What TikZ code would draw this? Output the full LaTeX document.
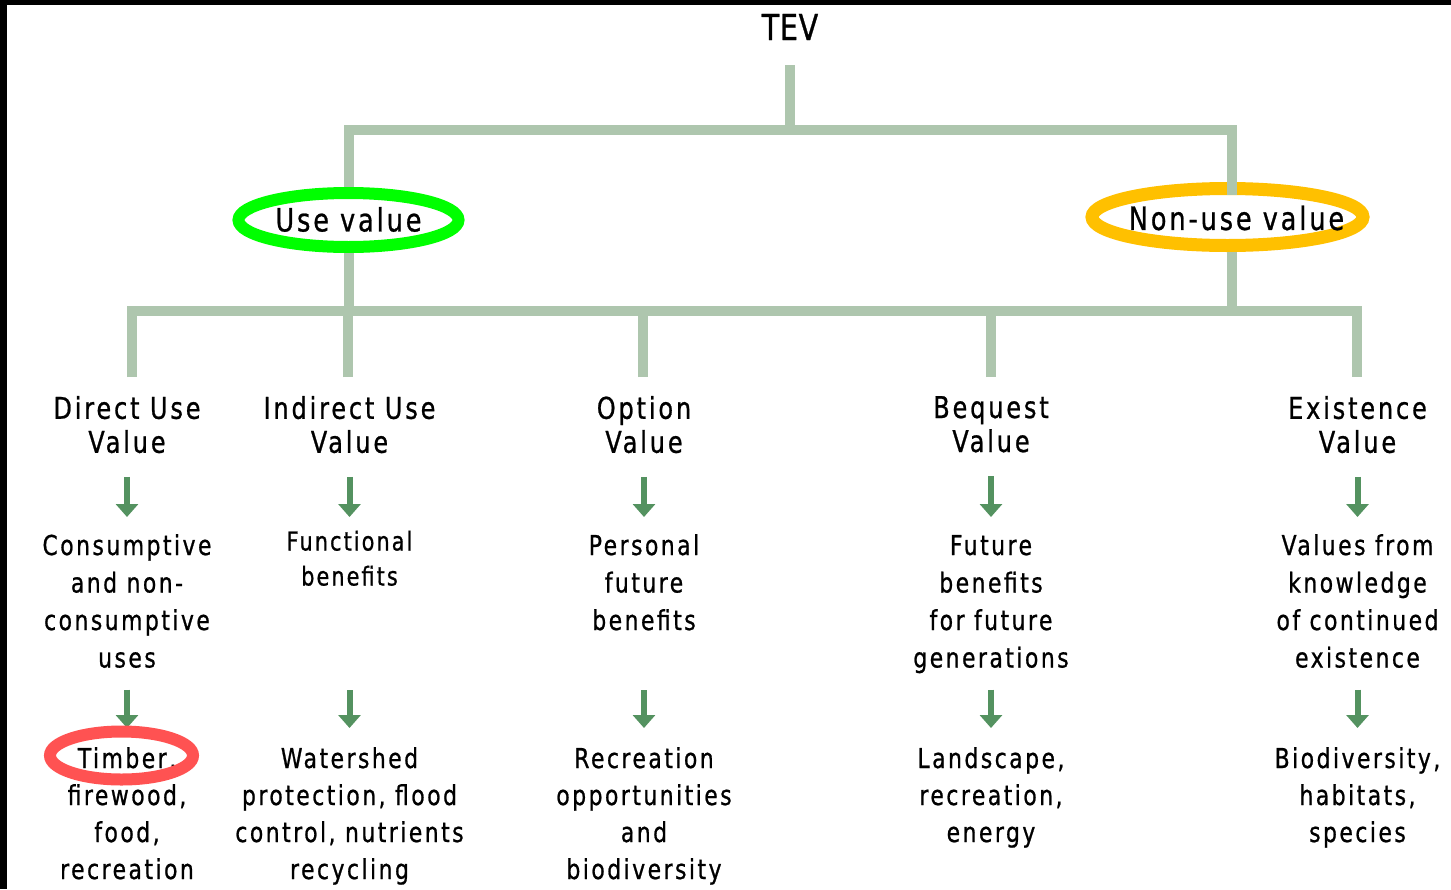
\documentclass[tikz,border=0pt]{standalone}
\usepackage{fontspec}
\setmainfont{DejaVu Sans}[FakeStretch=0.8, FakeBold=0.8]
\usetikzlibrary{shapes.geometric,arrows.meta}

\definecolor{treegreen}{RGB}{174,198,174}
\definecolor{arrowgreen}{RGB}{84,146,96}
\definecolor{usegreen}{RGB}{0,255,0}
\definecolor{nonuseorange}{RGB}{255,192,0}
\definecolor{timberred}{RGB}{255,82,82}

% type settings for the different text levels
\newcommand\tevfont{\fontsize{35.7}{40}\selectfont\addfontfeature{LetterSpace=2}}
\newcommand\ringfont{\fontsize{32}{36}\selectfont\addfontfeature{LetterSpace=9}}
\newcommand\headfont{\fontsize{30}{34}\selectfont\addfontfeature{LetterSpace=9.5}}
\newcommand\bodyfont{\fontsize{27.4}{37.5}\selectfont\addfontfeature{LetterSpace=9}}
\newcommand\examplefont{\fontsize{27.4}{37}\selectfont\addfontfeature{LetterSpace=9}}
\newcommand\bodysmallfont{\fontsize{26}{35}\selectfont\addfontfeature{LetterSpace=8}}

% invisible struts fixing the distance from a node edge to the first/last baseline
\newcommand\capgap[1]{\rule{0pt}{#1pt}}
\newcommand\footgap[1]{\rule[-#1pt]{0pt}{#1pt}}

\tikzset{
  branch/.style={draw=treegreen, line width=10pt},
  arr/.style={draw=arrowgreen, line width=6pt, -{Triangle[width=22pt,length=13pt]}},
  txt/.style={inner sep=0pt, outer sep=0pt, align=center, text=black},
  hdr/.style={txt, anchor=north, font=\headfont},
  bdy/.style={txt, anchor=north, font=\bodyfont},
  exm/.style={txt, anchor=north, font=\examplefont},
  ring/.style={ellipse, inner sep=0pt},
}

\begin{document}
\begin{tikzpicture}[x=1pt,y=-1pt]
\useasboundingbox (0,0) rectangle (1451,889);
\fill[white] (0,0) rectangle (1451,889);
\fill[black] (0,0) rectangle (7,889);
\fill[black] (0,0) rectangle (1451,5);

% root
\node[inner sep=0pt, anchor=base, font=\tevfont] (tev) at (790,40) {TEV};

% the two value groups: ring outlines and their captions
\node[ring, draw=usegreen, line width=12pt, minimum width=220pt, minimum height=54pt]
  (use) at (348.5,220) {};
\node[txt, font=\ringfont] (uselabel) at (348.5,219.5) {Use value};
\node[ring, draw=nonuseorange, line width=13pt, minimum width=271pt, minimum height=57pt]
  (nonuse) at (1227.5,217) {};
\node[txt, font=\ringfont] (nonuselabel) at (1236.5,218) {Non-use value};

% junctions and stem feet
\coordinate (bar1) at (790,130);
\coordinate (bar2) at (790,311);
\coordinate (nutop) at (1232,195);
\coordinate (nubot) at (1232,252);
\coordinate (s1) at (132,377);
\coordinate (s2) at (348,377);
\coordinate (s3) at (643,377);
\coordinate (s4) at (991,377);
\coordinate (s5) at (1357,377);

% value categories
\node[hdr] (h1) at (127,396)   {\capgap{22}Direct Use\\Value\footgap{24}};
\node[hdr] (h2) at (349.5,396) {\capgap{22}Indirect Use\\Value\footgap{24}};
\node[hdr] (h3) at (644,396)   {\capgap{22}Option\\Value\footgap{24}};
\node[hdr] (h4) at (991,396)   {\capgap{22}Bequest\\Value\footgap{24}};
\node[hdr] (h5) at (1357.5,396){\capgap{22}Existence\\Value\footgap{24}};

% benefits
\node[bdy] (b1) at (127,517)   {\capgap{38}Consumptive\\and non-\\consumptive\\uses\footgap{22}};
\node[bdy, font=\bodysmallfont] (b2) at (349.5,517) {\capgap{33.5}Functional\\benefits\footgap{104.5}};
\node[bdy] (b3) at (644,517)   {\capgap{38}Personal\\future\\benefits\footgap{60}};
\node[bdy] (b4) at (991,517)   {\capgap{38}Future\\benefits\\for future\\generations\footgap{22}};
\node[bdy] (b5) at (1357.5,517){\capgap{38}Values from\\knowledge\\of continued\\existence\footgap{22}};

% examples
\node[exm] (c1) at (127,728)    {\capgap{40}Timber,\\firewood,\\food,\\recreation};
\node[exm] (c2) at (349.5,728)  {\capgap{40}Watershed\\protection, flood\\control, nutrients\\recycling};
\node[exm] (c3) at (644,728)    {\capgap{40}Recreation\\opportunities\\and\\biodiversity};
\node[exm] (c4) at (991,728)    {\capgap{40}Landscape,\\recreation,\\energy};
\node[exm] (c5) at (1357.5,728) {\capgap{40}Biodiversity,\\habitats,\\species};

% tree
\draw[branch, shorten <=25pt] (tev.south) -- (bar1);
\draw[branch] (use) |- (bar1) -| (nutop);
\draw[branch] (use) -- (use |- bar2);
\draw[branch] (nubot) -- (nubot |- bar2);
\draw[branch] (s1) |- (bar2) -| (s5);
\draw[branch] (s2) -- (s2 |- bar2);
\draw[branch] (s3) -- (s3 |- bar2);
\draw[branch] (s4) -- (s4 |- bar2);

% arrows down each column
\foreach \i in {1,...,5}{
  \draw[arr] (h\i) -- (b\i);
  \draw[arr] (b\i) -- (c\i);
}

% highlight on the first example
\node[ring, draw=timberred, line width=12pt, minimum width=143pt, minimum height=48pt]
  (timberring) at (121.5,755.5) {};
\end{tikzpicture}
\end{document}
